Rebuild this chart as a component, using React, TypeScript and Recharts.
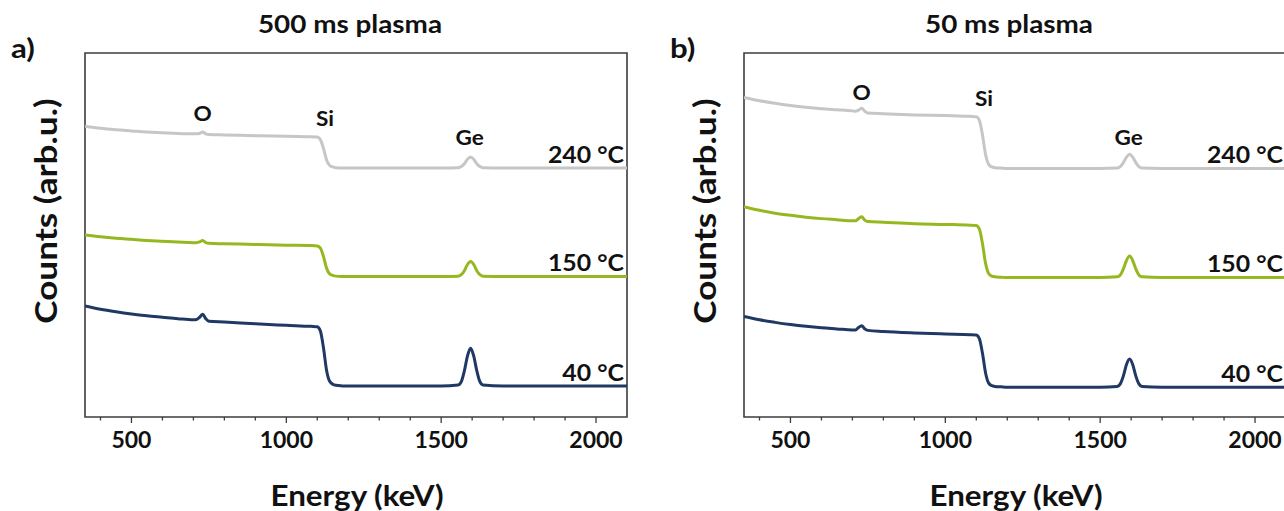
import React from 'react';
import { LineChart, Line, XAxis, YAxis, ReferenceArea, ReferenceDot } from 'recharts';

// Energy grid shared by every spectrum (keV)
const energies = [
  350, 400, 450, 500, 550, 600, 650, 700,
  710, 720, 730, 740, 750,
  800, 900, 1000, 1080, 1100,
  1110, 1120, 1130, 1140, 1150, 1160, 1180, 1200,
  1300, 1400, 1500,
  1555, 1565, 1575, 1585, 1595, 1605, 1615, 1625, 1635,
  1700, 1800, 1900, 2000, 2100,
];

// 500 ms plasma, offset spectra (arb.u.)
const plasma500At240 = [
  79.9, 79.3, 78.9, 78.6, 78.3, 78.1, 77.9, 77.8,
  77.8, 77.9, 78.3, 77.8, 77.6,
  77.5, 77.3, 77.1, 77.0, 76.9,
  76.2, 73.8, 70.6, 69.1, 68.7, 68.5, 68.4, 68.4,
  68.4, 68.4, 68.4,
  68.5, 68.8, 69.6, 70.8, 71.4, 70.8, 69.6, 68.8, 68.5,
  68.4, 68.4, 68.4, 68.4, 68.4,
];
const plasma500At150 = [
  50.0, 49.5, 49.1, 48.8, 48.5, 48.3, 48.1, 47.9,
  47.9, 48.1, 48.5, 47.9, 47.7,
  47.6, 47.4, 47.2, 47.1, 47.0,
  46.4, 44.1, 40.9, 39.3, 38.9, 38.7, 38.6, 38.6,
  38.6, 38.6, 38.6,
  38.7, 39.1, 40.2, 41.9, 42.7, 41.9, 40.2, 39.1, 38.7,
  38.6, 38.6, 38.6, 38.6, 38.6,
];
const plasma500At40 = [
  30.5, 29.6, 28.9, 28.3, 27.8, 27.4, 27.0, 26.7,
  26.8, 27.4, 28.2, 27.0, 26.3,
  26.1, 25.6, 25.2, 24.9, 24.8,
  23.6, 19.0, 12.8, 9.8, 9.0, 8.7, 8.55, 8.5,
  8.5, 8.5, 8.5,
  8.8, 9.7, 12.7, 16.8, 18.9, 16.8, 12.7, 9.7, 8.8,
  8.5, 8.5, 8.5, 8.5, 8.5,
];

// 50 ms plasma, offset spectra (arb.u.)
const plasma50At240 = [
  87.8, 86.9, 86.2, 85.6, 85.1, 84.7, 84.4, 84.1,
  84.0, 84.3, 84.8, 84.0, 83.5,
  83.3, 83.0, 82.8, 82.6, 82.5,
  81.5, 77.5, 72.1, 69.4, 68.7, 68.5, 68.4, 68.3,
  68.3, 68.3, 68.3,
  68.4, 68.8, 69.9, 71.4, 72.2, 71.4, 69.9, 68.8, 68.4,
  68.3, 68.3, 68.3, 68.3, 68.3,
];
const plasma50At150 = [
  57.8, 56.8, 56.0, 55.4, 54.9, 54.5, 54.2, 53.9,
  53.9, 54.5, 55.0, 54.1, 53.7,
  53.5, 53.1, 52.9, 52.7, 52.6,
  51.6, 47.6, 42.2, 39.4, 38.7, 38.5, 38.4, 38.3,
  38.3, 38.3, 38.3,
  38.5, 39.0, 40.7, 43.0, 44.2, 43.0, 40.7, 39.0, 38.5,
  38.3, 38.3, 38.3, 38.3, 38.3,
];
const plasma50At40 = [
  27.6, 26.7, 26.0, 25.4, 24.9, 24.5, 24.2, 23.9,
  23.9, 24.6, 25.1, 24.2, 23.8,
  23.5, 23.1, 22.8, 22.6, 22.5,
  21.5, 17.5, 12.1, 9.3, 8.6, 8.4, 8.3, 8.2,
  8.2, 8.2, 8.2,
  8.4, 9.1, 11.3, 14.4, 15.9, 14.4, 11.3, 9.1, 8.4,
  8.2, 8.2, 8.2, 8.2, 8.2,
];

const temperatures = ['240 °C', '150 °C', '40 °C'];
const elements = ['O', 'Si', 'Ge'];
const elementEnergies = [730, 1125, 1592];
const energyTicks = [400, 500, 600, 700, 800, 900, 1000, 1100, 1200, 1300, 1400, 1500, 1600, 1700, 1800, 1900, 2000];
const majorTicks = [500, 1000, 1500, 2000];

const COLORS = ['#c6c6c6', '#95b820', '#1f3864'];
const AXIS = '#3c3c3c';
const FONT = 'Lato, "Open Sans", sans-serif';

const EnergyTick = (props: any) => {
  const { x, y, payload } = props;
  const major = majorTicks.includes(payload.value);
  return (
    <g>
      <line x1={x} x2={x} y1={y} y2={y + (major ? 6 : 3.5)} stroke={AXIS} strokeWidth={1.3} />
      {major && (
        <text x={x} y={y + 31} textAnchor="middle" fontFamily={FONT} fontWeight={700} fontSize={23} fill="#111">
          {payload.value}
        </text>
      )}
    </g>
  );
};

// Bold annotation text, slightly widened, centred vertically on (cx, cy)
const stretchedText = (value: string, anchor: 'middle' | 'end', size: number, dx = 0) => (p: any) => {
  const x = p.cx + dx;
  const y = p.cy;
  return (
    <text
      x={x}
      y={y}
      dy="0.36em"
      textAnchor={anchor}
      fontFamily={FONT}
      fontWeight={700}
      fontSize={size}
      fill="#111"
      transform={`translate(${x},${y}) scale(1.13,1) translate(${-x},${-y})`}
    >
      {value}
    </text>
  );
};

interface PanelProps {
  left: number;
  width: number;
  marginLeft: number;
  marginRight: number;
  letter: string;
  title: string;
  series: number[][];
  elementY: number[];
}

function Panel({ left, width, marginLeft, marginRight, letter, title, series, elementY }: PanelProps) {
  const data = energies.map((e, i) => ({
    energy: e,
    s0: series[0][i],
    s1: series[1][i],
    s2: series[2][i],
  }));
  const plotCenter = marginLeft + (width - marginLeft - marginRight) / 2;
  const text: React.CSSProperties = {
    position: 'absolute',
    fontFamily: FONT,
    fontWeight: 700,
    color: '#111',
    lineHeight: 1,
    whiteSpace: 'nowrap',
  };

  return (
    <div style={{ position: 'absolute', left, top: 0, width, height: 511 }}>
      <LineChart
        width={width}
        height={511}
        data={data}
        margin={{ top: 53, right: marginRight, left: marginLeft, bottom: 64 }}
      >
        <XAxis
          dataKey="energy"
          type="number"
          domain={[350, 2100]}
          ticks={energyTicks}
          interval={0}
          allowDataOverflow
          axisLine={false}
          tickLine={false}
          tickSize={0}
          tickMargin={0}
          height={30}
          tick={(p: any) => <EnergyTick {...p} />}
        />
        <YAxis domain={[0, 100]} hide allowDataOverflow />
        <ReferenceArea x1={350} x2={2100} y1={0} y2={100} fill="none" stroke={AXIS} strokeWidth={1.6} ifOverflow="visible" />
        {['s0', 's1', 's2'].map((key, i) => (
          <Line
            key={key}
            type="monotone"
            dataKey={key}
            stroke={COLORS[i]}
            strokeWidth={3}
            dot={false}
            activeDot={false}
            isAnimationActive={false}
          />
        ))}
        {elements.map((el, i) => (
          <ReferenceDot
            key={el}
            x={elementEnergies[i]}
            y={elementY[i]}
            r={0}
            shape={stretchedText(el, 'middle', 20)}
          />
        ))}
        {temperatures.map((t, i) => (
          <ReferenceDot
            key={t}
            x={2100}
            y={series[i][series[i].length - 1] + 3.6}
            r={0}
            shape={stretchedText(t, 'end', 22, -3)}
          />
        ))}
      </LineChart>

      <div style={{ ...text, left: plotCenter - 6, top: 25, fontSize: 24, transform: 'translate(-50%, -53%) scaleX(1.16)' }}>{title}</div>
      <div style={{ ...text, left: marginLeft - 74, top: 35, fontSize: 26, transform: 'scaleX(1.2)', transformOrigin: 'left top' }}>{letter}</div>
      <div style={{ ...text, left: marginLeft - 40, top: 211, fontSize: 30, transform: 'translate(-50%, -50%) rotate(-90deg) scaleX(1.17)' }}>
        Counts (arb.u.)
      </div>
      <div style={{ ...text, left: plotCenter + 1, top: 496, fontSize: 28, transform: 'translate(-50%, -53%) scaleX(1.12)' }}>
        Energy (keV)
      </div>
    </div>
  );
}

export default function App() {
  return (
    <div style={{ position: 'absolute', left: 0, top: 0, width: 1284, height: 511, overflow: 'hidden', background: '#fff' }}>
      <Panel
        left={0}
        width={640}
        marginLeft={85}
        marginRight={13}
        letter="a)"
        title="500 ms plasma"
        series={[plasma500At240, plasma500At150, plasma500At40]}
        elementY={[83.4, 82.0, 76.7]}
      />
      <Panel
        left={640}
        width={660}
        marginLeft={104}
        marginRight={14}
        letter="b)"
        title="50 ms plasma"
        series={[plasma50At240, plasma50At150, plasma50At40]}
        elementY={[89.1, 87.4, 76.7]}
      />
    </div>
  );
}
